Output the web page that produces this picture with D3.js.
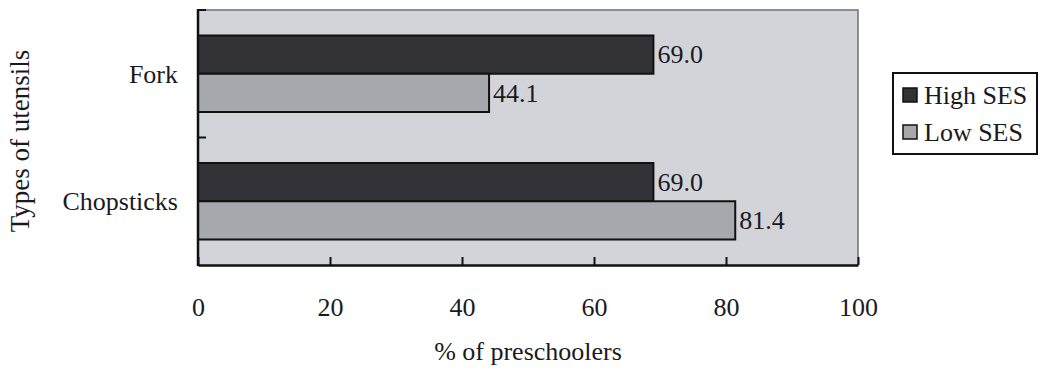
<!DOCTYPE html>
<html>
<head>
<meta charset="utf-8">
<script src="https://cdn.jsdelivr.net/npm/d3@7"></script>
<style>
  html, body { margin: 0; padding: 0; background: #fff; }
  svg { display: block; }
</style>
</head>
<body>
<svg id="chart" width="1040" height="370"></svg>
<script>
// Utensil use among preschoolers by socioeconomic status
const categories = ["Fork", "Chopsticks"];
const seriesNames = ["High SES", "Low SES"];
const highSES = [69.0, 69.0];
const lowSES = [44.1, 81.4];
const xTicks = [0, 20, 40, 60, 80, 100];

const colors = { "High SES": "#333337", "Low SES": "#a7a8ae" };
const FONT = "'Liberation Serif', 'Times New Roman', Times, serif";

const svg = d3.select("#chart");
const plot = { left: 198, right: 858, top: 10, bottom: 265 };
const fontSize = 26;

function serif(sel, size) {
  return sel.style("font-family", FONT).style("font-size", (size || fontSize) + "px").style("fill", "#1a1a1e");
}

const x = d3.scaleLinear().domain([0, 100]).range([plot.left, plot.right]);
const y = d3.scaleBand().domain(categories).range([plot.top, plot.bottom])
  .paddingInner(0.4).paddingOuter(0.2);
const ySub = d3.scaleBand().domain(seriesNames).range([0, y.bandwidth()]);

const rows = categories.map((c, i) => ({
  category: c,
  values: [
    { series: "High SES", value: highSES[i] },
    { series: "Low SES", value: lowSES[i] }
  ]
}));

// plot background
svg.append("rect")
  .attr("x", plot.left).attr("y", plot.top)
  .attr("width", plot.right - plot.left).attr("height", plot.bottom - plot.top)
  .attr("fill", "#d3d4da");

// top and right frame
svg.append("path")
  .attr("d", `M${plot.left},${plot.top}H${plot.right}V${plot.bottom}`)
  .attr("fill", "none").attr("stroke", "#6f7075").attr("stroke-width", 1.5);

// bars
const groups = svg.append("g").selectAll("g").data(rows).join("g")
  .attr("transform", d => `translate(0,${y(d.category)})`);

groups.selectAll("rect").data(d => d.values).join("rect")
  .attr("x", x(0))
  .attr("y", d => ySub(d.series))
  .attr("width", d => x(d.value) - x(0))
  .attr("height", ySub.bandwidth())
  .attr("fill", d => colors[d.series])
  .attr("stroke", "#111").attr("stroke-width", 2);

groups.selectAll("text").data(d => d.values).join("text")
  .attr("x", d => x(d.value) + 4)
  .attr("y", d => ySub(d.series) + ySub.bandwidth() / 2)
  .attr("dy", "0.34em")
  .call(serif)
  .text(d => d3.format(".1f")(d.value));

// bottom axis with inward ticks
const xAxis = svg.append("g").attr("transform", `translate(0,${plot.bottom})`)
  .call(d3.axisBottom(x).tickValues(xTicks).tickSizeInner(-8).tickSizeOuter(0).tickPadding(0));
xAxis.select(".domain").attr("stroke", "#111").attr("stroke-width", 2.5);
xAxis.selectAll(".tick line").attr("stroke", "#111").attr("stroke-width", 2);
xAxis.selectAll(".tick text").remove();
xAxis.selectAll(".tick").append("text")
  .attr("y", 51).attr("text-anchor", "middle")
  .call(serif)
  .text(d => d);

// left axis: inward ticks at category boundaries
const boundaries = [plot.top, (plot.top + plot.bottom) / 2];
svg.append("line")
  .attr("x1", plot.left).attr("x2", plot.left)
  .attr("y1", plot.top - 1).attr("y2", plot.bottom + 1)
  .attr("stroke", "#111").attr("stroke-width", 2.5);
svg.selectAll(".ytick").data(boundaries).join("line")
  .attr("class", "ytick")
  .attr("x1", plot.left).attr("x2", plot.left + 8)
  .attr("y1", d => d).attr("y2", d => d)
  .attr("stroke", "#111").attr("stroke-width", 2);

// category labels
svg.selectAll(".cat").data(categories).join("text")
  .attr("class", "cat")
  .attr("x", 178)
  .attr("y", d => y(d) + y.bandwidth() / 2)
  .attr("dy", "0.34em")
  .attr("text-anchor", "end")
  .call(serif)
  .text(d => d);

// axis titles
svg.append("text")
  .attr("x", (plot.left + plot.right) / 2).attr("y", 360)
  .attr("text-anchor", "middle")
  .call(serif)
  .text("% of preschoolers");

svg.append("text")
  .attr("transform", `translate(29,141) rotate(-90)`)
  .attr("text-anchor", "middle")
  .call(serif, 27)
  .text("Types of utensils");

// legend
const legend = svg.append("g").attr("transform", "translate(893,73)");
legend.append("rect")
  .attr("width", 144).attr("height", 81)
  .attr("fill", "#fff").attr("stroke", "#111").attr("stroke-width", 2);
const items = legend.selectAll("g").data(seriesNames).join("g")
  .attr("transform", (d, i) => `translate(10,${22 + i * 37})`);
items.append("rect")
  .attr("x", 0).attr("y", -7).attr("width", 14).attr("height", 14)
  .attr("fill", d => colors[d]).attr("stroke", "#111").attr("stroke-width", 1.5);
items.append("text")
  .attr("x", 21).attr("dy", "0.34em")
  .call(serif)
  .text(d => d);
</script>
</body>
</html>
